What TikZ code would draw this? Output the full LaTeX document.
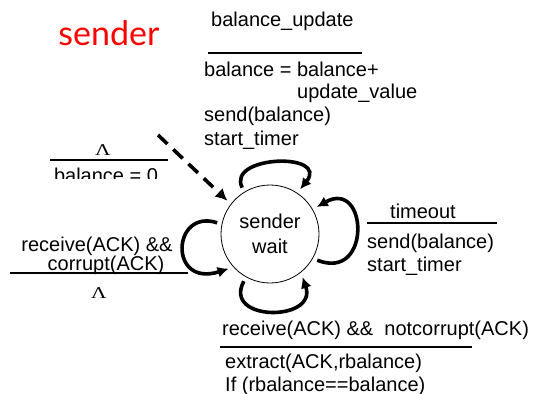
\documentclass[tikz,border=0pt]{standalone}
\usepackage{fontspec}
\setmainfont{Liberation Sans}
\newfontfamily\comicfont{Lato}
\newfontfamily\lamfont{Liberation Serif}
\usetikzlibrary{arrows.meta}
\newcommand{\lamsym}{\scalebox{1.3}[1]{Λ}}
\begin{document}
\begin{tikzpicture}[x=1pt,y=-1pt,
  txt/.style={anchor=base west, inner sep=0pt, font=\fontsize{20}{24}\selectfont},
  lam/.style={anchor=base, inner sep=0pt, font=\lamfont\fontsize{16.5}{18}\selectfont},
  loopline/.style={line width=3.6pt, -{Latex[length=11pt,width=11pt]}},
  thinrule/.style={line width=1.3pt},
  thickrule/.style={line width=2.6pt}]
\useasboundingbox[fill=white] (0,0) rectangle (539,394);

% title
\node[anchor=center, inner sep=0pt, text=red, font=\comicfont\fontsize{34}{36}\selectfont] (title) at (109,33) {sender};

% state
\node[circle, draw, line width=0.8pt, minimum size=98pt, inner sep=0pt, outer sep=5pt,
      align=center, font=\fontsize{20}{25}\selectfont] (s) at (270,234) {sender\\wait};

% initial transition
\coordinate (init) at (158,135);
\draw[line width=3.6pt, dash pattern=on 13pt off 8pt, -{Latex[length=12pt,width=12pt]}] (init) -- (s.142);
\node[lam] (l1) at (103,155) {\lamsym};
\coordinate (r1a) at (50,160); \coordinate (r1b) at (168,160);
\draw[thinrule] (r1a) -- (r1b);
\begin{scope}
\clip (0,0) rectangle (539,178);
\node[txt, anchor=base] (init0) at (106,182) {balance = 0};
\end{scope}

% top loop
\draw[loopline] (s.121) .. controls (226,155) and (330,152) .. (s.56);
\node[txt] (tu) at (211,26) {balance\_update};
\coordinate (r2a) at (208,53); \coordinate (r2b) at (362,53);
\draw[thinrule] (r2a) -- (r2b);
\node[txt] (ta1) at (204,76) {balance = balance+};
\node[txt] (ta2) at (297,98) {update\_value};
\node[txt] (ta3) at (204,121) {send(balance)};
\node[txt] (ta4) at (204,145) {start\_timer};

% right loop
\draw[loopline] (s.-29) .. controls (372,282) and (368,178) .. (s.30);
\node[txt, anchor=base] (rt) at (423,218) {timeout};
\coordinate (r3a) at (367,223); \coordinate (r3b) at (497,223);
\draw[thinrule] (r3a) -- (r3b);
\node[txt] (ra1) at (367,248) {send(balance)};
\node[txt] (ra2) at (367,271) {start\_timer};

% left loop
\draw[loopline] (s.168) .. controls (172,208) and (168,288) .. (s.220);
\node[txt, anchor=base] (lt1) at (97,251) {receive(ACK) \&\&};
\node[txt, anchor=base] (lt2) at (106,270) {corrupt(ACK)};
\coordinate (r4a) at (10,273); \coordinate (r4b) at (188,273);
\draw[thickrule] (r4a) -- (r4b);
\node[lam] (l2) at (99,298) {\lamsym};

% bottom loop
\draw[loopline] (s.241) .. controls (222,322) and (318,322) .. (s.307);
\node[txt] (bt) at (222,335) {receive(ACK) \&\& \ notcorrupt(ACK)};
\coordinate (r5a) at (220,347); \coordinate (r5b) at (472,347);
\draw[thickrule] (r5a) -- (r5b);
\node[txt] (ba1) at (225,368) {extract(ACK,rbalance)};
\node[txt] (ba2) at (225,391) {If (rbalance==balance)};
\end{tikzpicture}
\end{document}
